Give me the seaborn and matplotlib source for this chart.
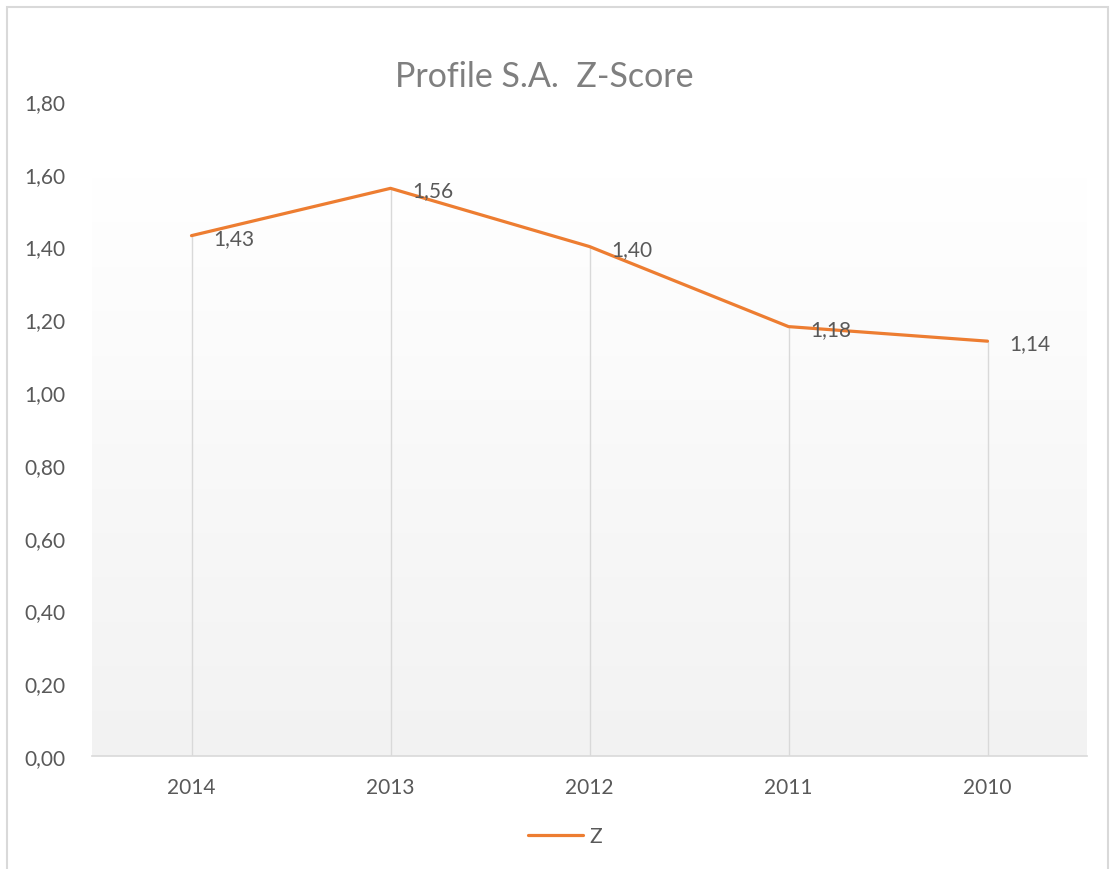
import numpy as np
import pandas as pd
import seaborn as sns
import matplotlib
matplotlib.use("Agg")
import matplotlib.pyplot as plt
from matplotlib.patches import Rectangle
from matplotlib.colors import LinearSegmentedColormap

years = ["2014", "2013", "2012", "2011", "2010"]
z_values = [1.43, 1.56, 1.40, 1.18, 1.14]
z_labels = ["1,43", "1,56", "1,40", "1,18", "1,14"]
y_ticks = [0.0, 0.2, 0.4, 0.6, 0.8, 1.0, 1.2, 1.4, 1.6, 1.8]
y_tick_labels = ["0,00", "0,20", "0,40", "0,60", "0,80", "1,00", "1,20", "1,40", "1,60", "1,80"]
title = "Profile S.A.  Z-Score"
series_name = "Z"

sns.set_theme(style="white")
plt.rcParams['font.family'] = ['Lato', 'DejaVu Sans']

df = pd.DataFrame({"year": years, "Z": z_values})

fig = plt.figure(figsize=(11.13, 8.7), dpi=100)
ax = fig.add_axes([92 / 1113, 1 - 757 / 870, (1087 - 92) / 1113, (757 - 102) / 870])

# outer chart border
fig.patches.append(Rectangle((7 / 1113, -0.01), (1108 - 7) / 1113, 1 - 8 / 870 + 0.01,
                             transform=fig.transFigure, fill=False,
                             edgecolor="#d9d9d9", linewidth=1.5))

# gradient plot-area background
cmap = LinearSegmentedColormap.from_list("g", ["#f2f2f2", "#ffffff"])
grad = np.linspace(0, 1, 256).reshape(-1, 1)
ax.imshow(grad, extent=[-0.5, len(years) - 0.5, 0, 1.59], origin="lower",
          aspect="auto", cmap=cmap, zorder=0)

xpos = np.arange(len(years))
ax.vlines(xpos, 0, z_values, colors="#d9d9d9", linewidth=1, zorder=1)

sns.lineplot(data=df, x="year", y="Z", ax=ax, color="#ED7D31", linewidth=2.3,
             sort=False, label=series_name, zorder=3)

for xi, v, lab in zip(xpos, z_values, z_labels):
    ax.annotate(lab, (xi, v), xytext=(15.5, -1.5), textcoords="offset points",
                ha="left", va="center", fontsize=15, color="#595959", zorder=4)

ax.set_xlim(-0.5, len(years) - 0.5)
ax.set_ylim(0, 1.8)
ax.set_yticks(y_ticks)
ax.set_yticklabels(y_tick_labels)
ax.set_xticks(xpos)
ax.set_xticklabels(years)
ax.tick_params(axis="both", labelsize=15, labelcolor="#595959", length=0)
ax.tick_params(axis="y", pad=19)
ax.tick_params(axis="x", pad=15)
ax.set_xlabel("")
ax.set_ylabel("")
for s in ["top", "right", "left"]:
    ax.spines[s].set_visible(False)
ax.spines["bottom"].set_color("#d9d9d9")
ax.spines["bottom"].set_linewidth(1.2)
ax.grid(False)

ax.legend_.remove()
handles, labels = ax.get_legend_handles_labels()
fig.legend(handles, labels, loc="center", bbox_to_anchor=(565 / 1113, 1 - 837 / 870),
           frameon=False, fontsize=15, handlelength=2.6, handletextpad=0.3,
           labelcolor="#595959")

fig.text(544 / 1113, 1 - 77 / 870, title, ha="center", va="center",
         fontsize=24.5, color="#7f7f7f")

fig.savefig("out.png", dpi=100, facecolor="white")
